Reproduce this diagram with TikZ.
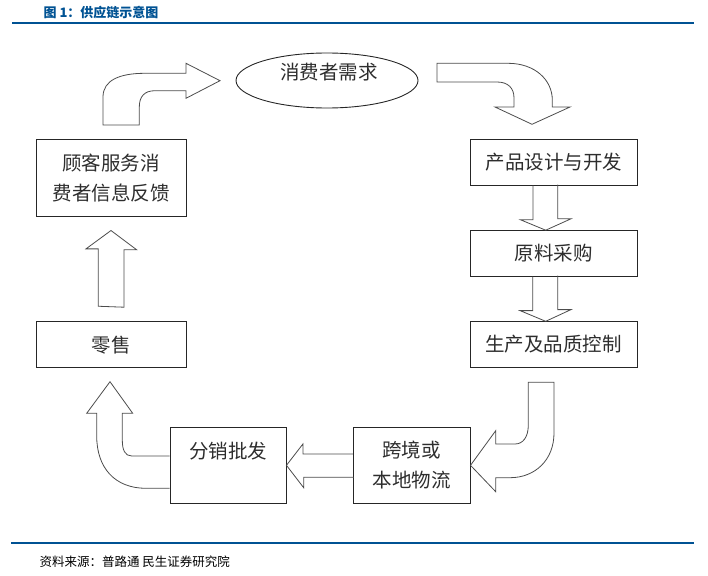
\documentclass[tikz,border=0pt]{standalone}
\usepackage{fontspec}
\setmainfont{Noto Sans CJK SC}
\usetikzlibrary{shapes.geometric}
\definecolor{msblue}{RGB}{0,82,147}
\definecolor{txtgray}{RGB}{45,45,45}
\tikzset{
    box/.style={draw=black!85, line width=0.9pt, rectangle, inner sep=0pt, align=center,
        text=txtgray, font=\fontsize{19.5}{30}\selectfont},
    txt/.style={inner sep=0pt, text=txtgray, font=\fontsize{19.5}{30}\selectfont},
    blk/.style={draw=black!70, line width=0.8pt, line join=miter},
}

\begin{document}
\begin{tikzpicture}[x=1pt,y=-1pt]
    \useasboundingbox (0,0) rectangle (708,575);
    \def\bw{167};
    \def\bh{45.5};

    % title and rules
    \node[anchor=west, text=msblue, font=\bfseries\fontsize{13}{13}\selectfont] (ttl) at (40,13) {图 1：供应链示意图};
    \draw[msblue, line width=2pt] (12,23.3) -- (694,23.3);
    \draw[msblue, line width=2pt] (11,542.7) -- (694,542.7);
    \node[anchor=west, font=\fontsize{12.5}{12.5}\selectfont] (src) at (36,562) {资料来源：普路通 民生证券研究院};

    % boxes
    \node[ellipse, draw=black!85, line width=0.9pt, minimum width=182, minimum height=55, inner sep=0pt] (xq) at (327,80.5) {};
    \node[txt] (xqt) at (329,72) {消费者需求};
    \node[box, minimum width=\bw, minimum height=\bh] (cp) at (554,162.2) {产品设计与开发};
    \node[box, minimum width=\bw, minimum height=\bh] (yl) at (553.7,253.4) {原料采购};
    \node[box, minimum width=\bw, minimum height=\bh] (sc) at (553.7,344.5) {生产及品质控制};
    \node[box, minimum width=116.7, minimum height=76] (kj) at (411.7,465.3) {跨境或\\本地物流};
    \node[box, minimum width=116, minimum height=76] (fx) at (228,465.3) {分销批发\\~};
    \node[box, minimum width=150, minimum height=46] (ls) at (111,344.7) {零售};
    \node[box, minimum width=150, minimum height=76.7] (gk) at (111,177.7) {顾客服务消\\费者信息反馈};

    % straight block arrows
    \draw[blk] ([xshift=-21]cp.south) -- ++(0,34.3) -- ++(-12.7,0) -- ([xshift=-8]yl.north)
        -- ++(25.3,-11.4) -- ++(-13.3,0) -- ++(0,-34.3);
    \draw[blk] ([xshift=-21]yl.south) -- ++(0,34) -- ++(-12.7,0) -- ([xshift=-8]sc.north)
        -- ++(25.3,-11.7) -- ++(-13.3,0) -- ++(0,-34);
    \draw[blk] ([yshift=11.3]kj.west) -- ++(-50,0) -- ++(0,-10) -- (fx.east)
        -- ++(17.3,22.5) -- ++(0,-10.5) -- ++(50,0);
    \draw[blk] ([xshift=-12.7,yshift=15]ls.north) -- ++(0,-57.4) -- ++(-12.3,0) -- ([yshift=-14]gk.south)
        -- ++(25.7,19.3) -- ++(-12.7,0) -- ++(0,57.4) -- cycle;

    % curved block arrows
    \draw[blk] (103,125) -- (103,97) .. controls (103,80) and (120,73.3) .. (145,73.3) -- (186,73.3)
        -- (186,63.3) -- (220,80.7) -- (186,98.3) -- (186,90.7) -- (155,90.7)
        .. controls (144,90.7) and (139.3,97) .. (139.3,107) -- (139.3,125) -- cycle;
    \draw[blk] (437,63.3) -- (508,63.3) .. controls (535,63.3) and (552.3,80) .. (552.3,100)
        -- (552.3,107) -- (570,107) -- (532,124.3) -- (495,107) -- (514,107) -- (514,98)
        .. controls (514,88) and (508,82) .. (497,82) -- (437,82) -- cycle;
    \draw[blk] (528.3,382.3) -- (554,382.3) -- (554,433) .. controls (554,460) and (535,477.7) .. (510,477.7)
        -- (495.7,477.7) -- (495.7,491.7) -- (kj.east) -- (495.7,430.7) -- (495.7,444) -- (515,444)
        .. controls (523,444) and (528.3,437) .. (528.3,425) -- cycle;
    \draw[blk] ([yshift=9.3]fx.west) -- (131.7,456) .. controls (125,456) and (122.3,450) .. (122.3,440)
        -- (122.3,413.3) -- (132.7,413.3) -- (110,381.7) -- (86.7,413.3) -- (96.7,413.3) -- (96.7,436)
        .. controls (96.7,468) and (115,488.3) .. (146,488.3) -- ([yshift=-23]fx.west);
\end{tikzpicture}
\end{document}
